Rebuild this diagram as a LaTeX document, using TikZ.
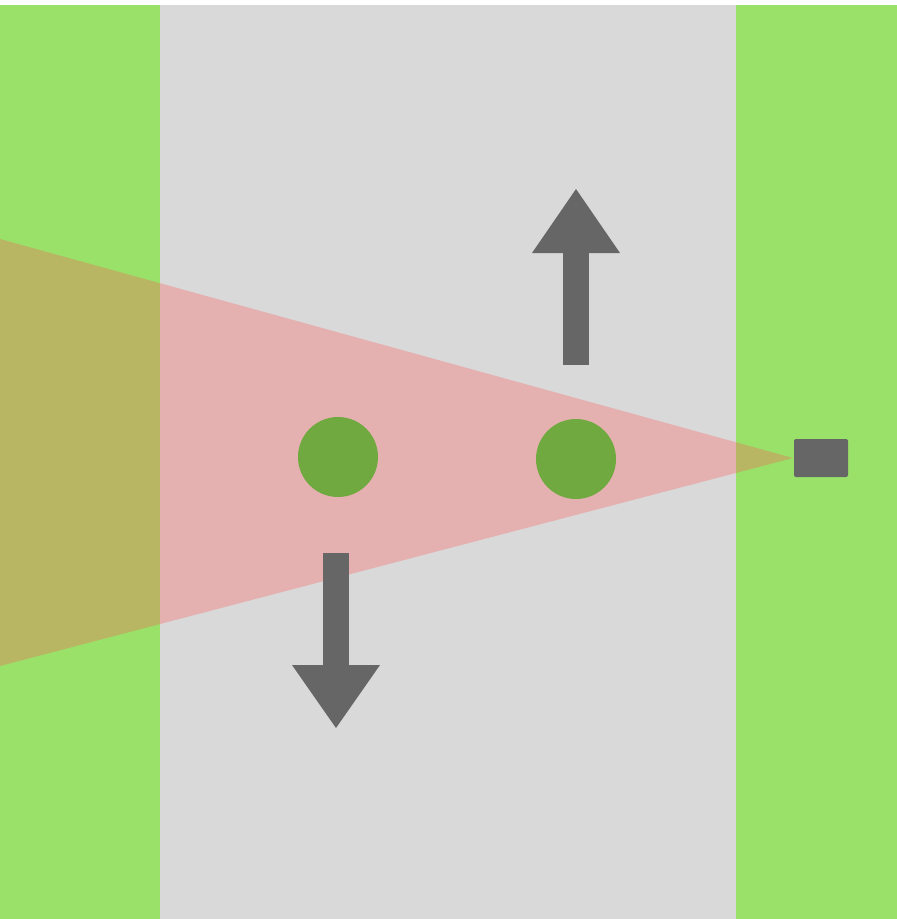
\documentclass[tikz,border=0pt]{standalone}
\definecolor{grass}{HTML}{9AE16A}
\definecolor{road}{HTML}{D9D9D9}
\definecolor{cone}{RGB}{255,84,84}
\definecolor{dot}{HTML}{6FA93F}
\definecolor{arrowgray}{HTML}{666666}
\tikzset{
  arrowpart/.style={fill=arrowgray, draw=none},
  obj/.style={circle, fill=dot, minimum size=80pt, inner sep=0pt, draw=none},
  sensor/.style={rectangle, rounded corners=2pt, fill=arrowgray, minimum width=54pt, minimum height=38pt, inner sep=0pt, draw=none}
}
\begin{document}
\begin{tikzpicture}[x=1pt,y=-1pt]
\useasboundingbox (0,0) rectangle (897,919);
\fill[white] (0,0) rectangle (897,919);
\fill[grass] (0,5) rectangle (160,919);
\fill[road] (160,5) rectangle (736,919);
\fill[grass] (736,5) rectangle (897,919);
\node[sensor] (s) at (821,458) {};
\coordinate (apex) at (793,458);
\coordinate (ctop) at (0,239);
\coordinate (cbot) at (0,666);
\fill[cone, fill opacity=0.3] (apex) -- (ctop) -- (cbot) -- cycle;
\node[obj] (o1) at (338,457) {};
\node[obj] (o2) at (576,459) {};
% up arrow
\fill[arrowpart] (563,365) rectangle (589,250);
\fill[arrowpart] (532,253) -- (576,189) -- (620,253) -- cycle;
% down arrow
\fill[arrowpart] (323,553) rectangle (349,668);
\fill[arrowpart] (292,665) -- (336,728) -- (380,665) -- cycle;
\end{tikzpicture}
\end{document}
